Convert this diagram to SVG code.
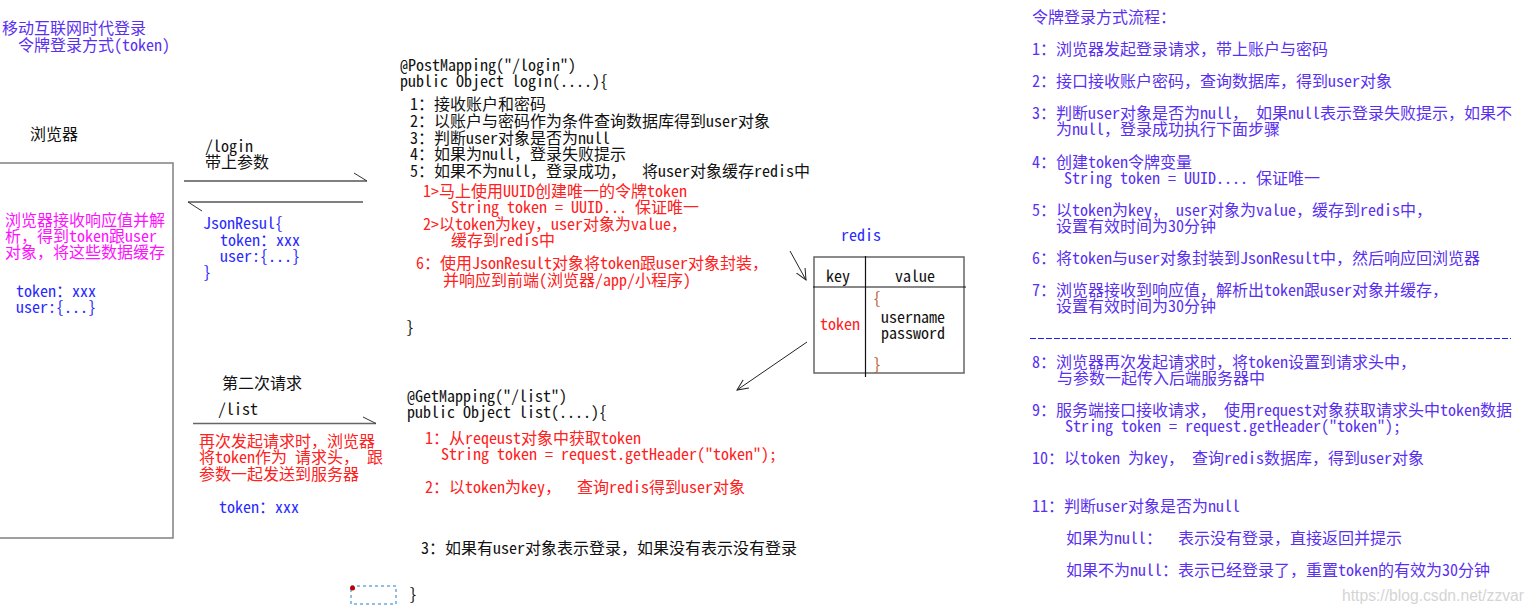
<svg xmlns="http://www.w3.org/2000/svg" width="1535" height="613" viewBox="0 0 1535 613" xml:space="preserve">
<style>
text { font-family: "Noto Sans Mono CJK SC", "Liberation Mono", "Noto Sans CJK SC", monospace; font-size: 16px; white-space: pre; }
.k { fill: #111111; }
.r { fill: #ff2020; }
.m { fill: #ff10ff; }
.b { fill: #2a2aff; }
.p { fill: #5a30f0; }
.br { fill: #c0603a; }
.wm { font-family: "Liberation Sans", Arial, sans-serif; font-size: 16px; fill: #d4d4d4; }
.ln { fill: none; stroke: #222; stroke-width: 1; }
</style>
<defs>
<marker id="v" viewBox="0 0 12 12" refX="11" refY="6" markerWidth="12" markerHeight="12" markerUnits="userSpaceOnUse" orient="auto">
<path d="M0,1 L11,6 L0,11" fill="none" stroke="#222" stroke-width="1"/>
</marker>
</defs>
<rect width="1535" height="613" fill="#ffffff"/>

<g id="title">
<text class="p" x="2" y="34">移动互联网时代登录<tspan x="18" dy="17">令牌登录方式(token)</tspan></text>
</g>

<g id="browser">
<text class="k" x="30" y="140">浏览器</text>
<rect x="-2" y="163" width="175" height="375" fill="none" stroke="#808080" stroke-width="1.5"/>
<text class="m" x="5" y="226">浏览器接收响应值并解<tspan x="5" dy="16">析，得到token跟user</tspan><tspan x="5" dy="16">对象，将这些数据缓存</tspan></text>
<text class="b" x="16" y="297">token：xxx<tspan x="16" dy="16">user:{...}</tspan></text>
</g>

<g id="login-request">
<text class="k" x="205" y="152">/login<tspan x="205" dy="16">带上参数</tspan></text>
</g>

<g id="login-response">
<text class="b" x="203" y="229">JsonResul{<tspan x="220" dy="17">token：xxx</tspan><tspan x="220" dy="16">user:{...}</tspan><tspan x="203" dy="16">}</tspan></text>
</g>

<g id="login-code">
<text class="k" x="400" y="71">@PostMapping("/login")<tspan x="400" dy="16">public Object login(....){</tspan><tspan x="410" dy="23">1：接收账户和密码</tspan><tspan x="410" dy="17">2：以账户与密码作为条件查询数据库得到user对象</tspan><tspan x="410" dy="17">3：判断user对象是否为null</tspan><tspan x="410" dy="16">4：如果为null，登录失败提示</tspan><tspan x="410" dy="17">5：如果不为null，登录成功，  将user对象缓存redis中</tspan></text>
<text class="r" x="423" y="197">1&gt;马上使用UUID创建唯一的令牌token<tspan x="451" dy="16">String token = UUID... 保证唯一</tspan><tspan x="423" dy="17">2&gt;以token为key，user对象为value，</tspan><tspan x="451" dy="16">缓存到redis中</tspan></text>
<text class="r" x="416" y="269">6：使用JsonResult对象将token跟user对象封装，<tspan x="443" dy="17">并响应到前端(浏览器/app/小程序)</tspan></text>
<text class="k" x="406" y="333">}</text>
</g>

<g id="redis">
<text class="b" x="841" y="241">redis</text>
<rect x="814" y="257" width="150" height="116" fill="none" stroke="#666" stroke-width="1.5"/>
<line x1="865.5" y1="256" x2="865.5" y2="377" stroke="#111" stroke-width="1.2"/>
<line x1="813" y1="287" x2="966" y2="287" stroke="#111" stroke-width="1.2"/>
<text class="k" x="826" y="282">key</text>
<text class="k" x="895" y="282">value</text>
<text class="r" x="820" y="330">token</text>
<text class="k" x="873" y="304"><tspan class="br">{</tspan><tspan x="881" dy="19">username</tspan><tspan x="881" dy="16">password</tspan><tspan class="br" x="873" dy="31">}</tspan></text>
</g>

<g id="list-request">
<text class="k" x="222" y="389">第二次请求<tspan x="218" dy="26">/list</tspan></text>
<text class="r" x="199" y="447">再次发起请求时，浏览器<tspan x="199" dy="16">将token作为 请求头， 跟</tspan><tspan x="199" dy="17">参数一起发送到服务器</tspan></text>
<text class="b" x="219" y="513">token：xxx</text>
</g>

<g id="list-code">
<text class="k" x="407" y="402">@GetMapping("/list")<tspan x="407" dy="16">public Object list(....){</tspan></text>
<text class="r" x="425" y="444">1：从reqeust对象中获取token<tspan x="441" dy="16">String token = request.getHeader("token");</tspan><tspan x="425" dy="33">2：以token为key，  查询redis得到user对象</tspan></text>
<text class="k" x="421" y="554">3：如果有user对象表示登录，如果没有表示没有登录</text>
<text class="k" x="409" y="600">}</text>
<rect x="351" y="586" width="45" height="18" fill="none" stroke="#1f7fd0" stroke-width="1" stroke-dasharray="3 3"/>
<circle cx="352.5" cy="588" r="2.5" fill="#c00000"/>
</g>

<g id="flow-notes">
<text class="p" x="1032" y="23">令牌登录方式流程：</text>
<text class="p" x="1032" y="55">1：浏览器发起登录请求，带上账户与密码</text>
<text class="p" x="1032" y="87">2：接口接收账户密码，查询数据库，得到user对象</text>
<text class="p" x="1032" y="119">3：判断user对象是否为null， 如果null表示登录失败提示，如果不<tspan x="1056" dy="16">为null，登录成功执行下面步骤</tspan></text>
<text class="p" x="1032" y="168">4：创建token令牌变量<tspan x="1064" dy="16">String token = UUID.... 保证唯一</tspan></text>
<text class="p" x="1032" y="216">5：以token为key， user对象为value，缓存到redis中，<tspan x="1056" dy="16">设置有效时间为30分钟</tspan></text>
<text class="p" x="1032" y="264">6：将token与user对象封装到JsonResult中，然后响应回浏览器</text>
<text class="p" x="1032" y="296">7：浏览器接收到响应值，解析出token跟user对象并缓存，<tspan x="1056" dy="16">设置有效时间为30分钟</tspan></text>
<line x1="1030" y1="338.5" x2="1511" y2="338.5" stroke="#2020ff" stroke-width="1" stroke-dasharray="6 2"/>
<text class="p" x="1032" y="368">8：浏览器再次发起请求时，将token设置到请求头中，<tspan x="1057" dy="16">与参数一起传入后端服务器中</tspan></text>
<text class="p" x="1032" y="416">9：服务端接口接收请求， 使用request对象获取请求头中token数据<tspan x="1065" dy="16">String token = request.getHeader("token");</tspan></text>
<text class="p" x="1032" y="464">10：以token 为key， 查询redis数据库，得到user对象</text>
<text class="p" x="1032" y="512">11：判断user对象是否为null</text>
<text class="p" x="1066" y="544">如果为null：  表示没有登录，直接返回并提示</text>
<text class="p" x="1066" y="576">如果不为null：表示已经登录了，重置token的有效为30分钟</text>
</g>

<g id="watermark">
<text class="wm" x="1342" y="601" textLength="182" lengthAdjust="spacingAndGlyphs">https://blog.csdn.net/zzvar</text>
</g>

<g id="connectors">
<line x1="184" y1="181" x2="367" y2="181" stroke="#808080" stroke-width="2"/>
<line x1="354" y1="173" x2="367" y2="181" stroke="#333" stroke-width="1"/>
<line x1="188" y1="202" x2="363" y2="202" stroke="#555" stroke-width="1.3"/>
<line x1="188" y1="202" x2="202" y2="211" stroke="#333" stroke-width="1"/>
<line x1="193" y1="423.5" x2="376" y2="423.5" stroke="#666" stroke-width="1.5"/>
<line x1="363" y1="417" x2="376" y2="423.5" stroke="#333" stroke-width="1"/>
<line class="ln" x1="790" y1="251" x2="806" y2="280" marker-end="url(#v)"/>
<line class="ln" x1="807" y1="342" x2="737" y2="390" marker-end="url(#v)"/>
</g>
</svg>
